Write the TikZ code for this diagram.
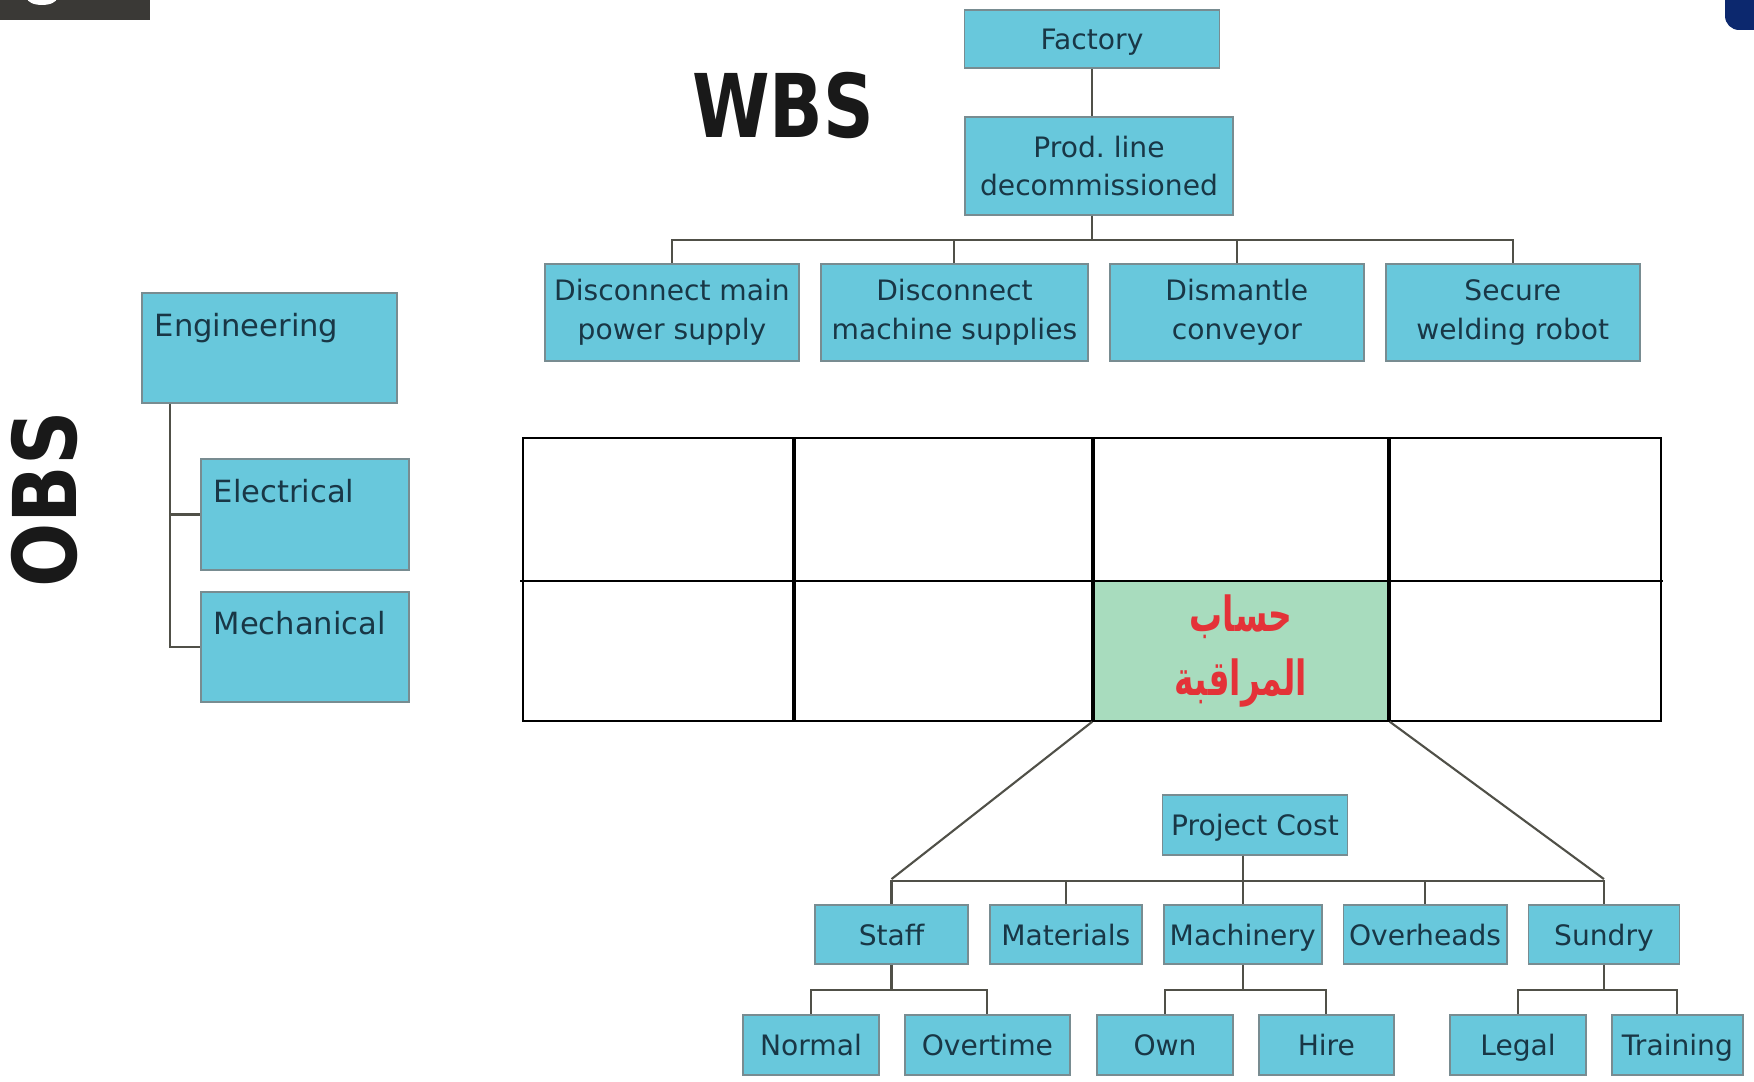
\documentclass[tikz,border=0pt]{standalone}
\usepackage{xcolor}
\usepackage{fontspec}
\usepackage{tikz}
\usetikzlibrary{positioning}
\setmainfont{DejaVu Sans}
\newfontfamily\arabicfont[Script=Arabic]{DejaVu Sans}
\TeXXeTstate=1

\definecolor{boxfill}{RGB}{104,200,220}
\definecolor{boxline}{RGB}{120,140,145}
\definecolor{boxtext}{RGB}{25,55,70}
\definecolor{cellgreen}{RGB}{168,220,190}
\definecolor{accred}{RGB}{228,50,56}
\definecolor{linkgray}{RGB}{80,80,72}
\definecolor{barbg}{RGB}{58,57,54}
\definecolor{navyblue}{RGB}{12,40,110}

\begin{document}
\begin{tikzpicture}[x=0.01cm, y=0.01cm,
    box/.style={rectangle, draw=boxline, line width=0.5pt, fill=boxfill, text=boxtext, inner sep=1pt, align=center, font=\fontsize{8}{11}\selectfont},
    leaf/.style={box, text height=1.55ex, text depth=0.45ex},
    obslabel/.style={anchor=base west, xshift=0.13cm, yshift=-0.44cm, inner sep=0pt, text=boxtext, font=\fontsize{8.7}{10}\selectfont},
    title/.style={text=black!90, inner sep=0pt, font=\fontsize{25}{30}\selectfont\bfseries},
    link/.style={draw=linkgray, line width=0.6pt},
    gridline/.style={draw=black, line width=0.8pt}
]
\useasboundingbox (0,0) rectangle (1754,1081);
\fill[barbg] (0,1061) rectangle (150,1081);
\fill[white] (42,1083) ellipse [x radius=15, y radius=7];
\fill[navyblue, rounded corners=4pt] (1725,1051) rectangle (1800,1120);

\node[title] (wbs) at (783,975) {\scalebox{0.8}[1]{WBS}};
\node[title, rotate=90] (obs) at (44.5,581.5) {\scalebox{0.86}[1]{OBS}};

\node[leaf, minimum width=2.55cm, minimum height=0.58cm] (factory) at (1092,1042) {Factory};
\node[box, minimum width=2.68cm, minimum height=0.98cm] (prodline) at (1099,915) {Prod.\ line\\decommissioned};
\node[box, minimum width=2.54cm, minimum height=0.97cm] (dmain) at (672,768.5) {Disconnect main\\power supply};
\node[box, minimum width=2.67cm, minimum height=0.97cm, right=0.2cm of dmain] (dmach) {Disconnect\\machine supplies};
\node[box, minimum width=2.54cm, minimum height=0.97cm, right=0.2cm of dmach] (dism) {Dismantle\\conveyor};
\node[box, minimum width=2.54cm, minimum height=0.97cm, right=0.2cm of dism] (secure) {Secure\\welding robot};

\draw[link] (factory) -- (factory |- prodline.north);
\foreach \n in {dmain,dmach,dism,secure}
    \draw[link] (factory |- prodline.south) -- ++(0,-24) -| (\n.north);

\node[box, minimum width=2.55cm, minimum height=1.10cm, label={[obslabel]north west:Engineering}] (engineering) at (269.5,733) {};
\node[box, minimum width=2.08cm, minimum height=1.11cm, label={[obslabel]north west:Electrical}] (electrical) at (305,566.5) {};
\node[box, minimum width=2.08cm, minimum height=1.10cm, below=0.2cm of electrical, label={[obslabel]north west:Mechanical}] (mechanical) {};

\draw[link] ([xshift=0.29cm]engineering.south west) |- (electrical.west);
\draw[link] ([xshift=0.29cm]engineering.south west) |- (mechanical.west);

\node[fill=cellgreen, text=accred, minimum width=2.96cm, minimum height=1.40cm, align=center, font=\arabicfont\fontsize{11}{18}\selectfont\bfseries] (account) at (1241,430)
    {\scalebox{0.85}[1.25]{\beginR حساب\endR}\\\scalebox{0.85}[1.25]{\beginR المراقبة\endR}};
\draw[gridline] (523,360) rectangle (1661,643);
\draw[gridline] (520,500) -- (1663,500);
\foreach \x in {794,1093,1389}
    \draw[gridline, line width=1pt] (\x,360) -- (\x,643);

\node[leaf, minimum width=1.85cm, minimum height=0.60cm] (cost) at (1255,256) {Project Cost};
\node[leaf, minimum width=1.53cm, minimum height=0.59cm] (staff) at (891.5,146.5) {Staff};
\node[leaf, minimum width=1.52cm, minimum height=0.59cm, right=0.2cm of staff] (materials) {Materials};
\node[leaf, minimum width=1.58cm, minimum height=0.59cm, right=0.2cm of materials] (machinery) {Machinery};
\node[leaf, minimum width=1.63cm, minimum height=0.59cm, right=0.2cm of machinery] (overheads) {Overheads};
\node[leaf, minimum width=1.51cm, minimum height=0.59cm, right=0.2cm of overheads] (sundry) {Sundry};

\draw[link] (account.south west) -- ([yshift=0.25cm]staff.north);
\draw[link] (account.south east) -- ([yshift=0.25cm]sundry.north);
\foreach \n in {staff,materials,machinery,overheads,sundry}
    \draw[link] (cost.south -| machinery) -- ++(0,-25) -| (\n.north);

\node[leaf, minimum width=1.36cm, minimum height=0.60cm] (normal) at (811,36) {Normal};
\node[leaf, minimum width=1.65cm, minimum height=0.60cm, right=0.24cm of normal] (overtime) {Overtime};
\node[leaf, minimum width=1.36cm, minimum height=0.60cm] (own) at (1165,36) {Own};
\node[leaf, minimum width=1.35cm, minimum height=0.60cm, right=0.24cm of own] (hire) {Hire};
\node[leaf, minimum width=1.36cm, minimum height=0.60cm] (legal) at (1518,36) {Legal};
\node[leaf, minimum width=1.31cm, minimum height=0.60cm, right=0.24cm of legal] (training) {Training};

\foreach \p/\c in {staff/normal, staff/overtime, machinery/own, machinery/hire, sundry/legal, sundry/training}
    \draw[link] (\p.south) -- ++(0,-25) -| (\c.north);
\end{tikzpicture}
\end{document}
